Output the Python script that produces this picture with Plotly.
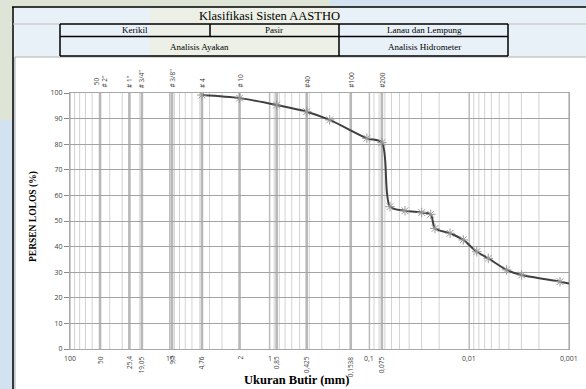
import math
import plotly.graph_objects as go

# ---------------- data ----------------
size_mm = [4.76, 2.0, 0.85, 0.425, 0.25, 0.106, 0.075,
           0.0622, 0.044, 0.0299, 0.0243, 0.022, 0.01556, 0.01146,
           0.0084, 0.00644, 0.00422, 0.00298, 0.00123, 0.0009]
percent_pass = [99.2, 98.0, 95.3, 92.7, 89.5, 82.3, 80.6,
                55.6, 54.0, 53.3, 52.6, 47.1, 45.2, 42.6,
                38.0, 35.4, 30.9, 28.9, 26.3, 25.2]

sieve_sizes = [50, 25.4, 19.05, 9.5, 4.76, 2, 0.85, 0.425, 0.1538, 0.075]
sieve_top_labels = ["50<br># 2\"", "# 1\"", "# 3/4\"", "# 3/8\"", "# 4", "# 10", "", "#40", "#100", "#200"]
sieve_bottom_labels = ["50", "25,4", "19,05", "9,5", "4,76", "2", "0,85", "0,425", "0,1538", "0,075"]
decade_values = [100, 10, 1, 0.1, 0.01, 0.001]
decade_labels = ["100", "10", "1", "0,1", "0,01", "0,001"]
y_ticks = list(range(0, 101, 10))

# ---------------- geometry helpers ----------------
W, H = 586, 389
L, R, T, B = 70, 17, 93, 40
PW, PH = W - L - R, H - T - B


def xp(px):
    return (px - L) / PW


def yp(py):
    return (H - B - py) / PH


fig = go.Figure()

fig.add_trace(go.Scatter(
    x=size_mm, y=percent_pass, mode="lines+markers",
    line=dict(color="#3f3f3f", width=2, shape="spline", smoothing=0.8),
    marker=dict(symbol="asterisk-open", size=8, color="#9a9a9a",
                line=dict(color="#9a9a9a", width=1)),
    cliponaxis=True, showlegend=False, hoverinfo="x+y"))

shapes = []
annotations = []

# background decoration
shapes.append(dict(type="rect", xref="paper", yref="paper", x0=xp(0), x1=xp(14), y0=yp(0), y1=yp(120),
                   fillcolor="rgba(240,232,175,0.4)", line=dict(width=0), layer="below"))
shapes.append(dict(type="rect", xref="paper", yref="paper", x0=xp(14), x1=xp(330), y0=yp(0), y1=yp(7),
                   fillcolor="rgba(240,232,175,0.4)", line=dict(width=0), layer="below"))
# table area
shapes.append(dict(type="rect", xref="paper", yref="paper", x0=xp(12), x1=xp(586), y0=yp(7), y1=yp(57),
                   fillcolor="rgba(255,255,255,0.5)", line=dict(width=0), layer="below"))
shapes.append(dict(type="rect", xref="paper", yref="paper", x0=xp(150), x1=xp(340), y0=yp(7), y1=yp(57),
                   fillcolor="rgba(245,238,190,0.3)", line=dict(width=0), layer="below"))
# white chart area
shapes.append(dict(type="rect", xref="paper", yref="paper", x0=xp(15), x1=xp(588), y0=yp(57), y1=yp(392),
                   fillcolor="white", line=dict(color="#b0b0b0", width=1), layer="below"))

# table lines
def hline(x0, x1, y, color="black", width=1.5):
    shapes.append(dict(type="line", xref="paper", yref="paper", x0=xp(x0), x1=xp(x1), y0=yp(y), y1=yp(y),
                       line=dict(color=color, width=width)))


def vline(x, y0, y1, color="black", width=1.5):
    shapes.append(dict(type="line", xref="paper", yref="paper", x0=xp(x), x1=xp(x), y0=yp(y0), y1=yp(y1),
                       line=dict(color=color, width=width)))

hline(12, 586, 7)
vline(13, 7, 389)
hline(13, 60, 24, color="#bdbdbd", width=1)
hline(508, 586, 24, color="#bdbdbd", width=1)
hline(60, 508, 24)
hline(60, 508, 36.5)
hline(60, 508, 56)
vline(60, 24, 56)
vline(508, 24, 56)
vline(210, 24, 36.5)
vline(339, 24, 56)

def text(px, py, s, size, bold=False, color="black", family="Liberation Serif"):
    annotations.append(dict(xref="paper", yref="paper", x=xp(px), y=yp(py), text=("<b>%s</b>" % s) if bold else s,
                            showarrow=False, xanchor="center", yanchor="middle",
                            font=dict(family=family, size=size, color=color)))

text(269, 15.5, "Klasifikasi Sisten AASTHO", 12.5)
text(135, 30, "Kerikil", 9)
text(274, 30, "Pasir", 9)
text(424, 30, "Lanau dan Lempung", 9)
text(199, 46.5, "Analisis Ayakan", 9)
text(424, 46.5, "Analisis Hidrometer", 9)
text(296, 380, "Ukuran Butir (mm)", 12.5, bold=True)
annotations.append(dict(xref="paper", yref="paper", x=xp(33), y=yp(217), text="<b>PERSEN LOLOS (%)</b>",
                        textangle=-90, showarrow=False, xanchor="center", yanchor="middle",
                        font=dict(family="Liberation Serif", size=9.5, color="black")))

# vertical grid lines (log minor, decades, sieves) -- shapes take raw data values on log axes
for k in range(-3, 2):
    for m in range(2, 10):
        v = m * 10 ** k
        shapes.append(dict(type="line", xref="x", yref="paper", x0=v, x1=v, y0=0, y1=1,
                           line=dict(color="#d2d2d2", width=1), layer="below"))
for v in decade_values:
    shapes.append(dict(type="line", xref="x", yref="paper", x0=v, x1=v, y0=0, y1=1,
                       line=dict(color="#bcbcbc", width=1.5), layer="below"))
for v in sieve_sizes:
    shapes.append(dict(type="line", xref="x", yref="paper", x0=v, x1=v, y0=0, y1=1,
                       line=dict(color="#b8b8b8", width=2.6), layer="below"))

tick_font = dict(family="Open Sans", size=6.5, color="#404040")
for v, lab in zip(sieve_sizes, sieve_top_labels):
    if lab:
        annotations.append(dict(xref="x", yref="paper", x=math.log10(v), y=yp(90), text=lab, textangle=-90,
                                showarrow=False, xanchor="center", yanchor="bottom", font=tick_font))
for v, lab in zip(sieve_sizes, sieve_bottom_labels):
    annotations.append(dict(xref="x", yref="paper", x=math.log10(v), y=yp(354), text=lab, textangle=-90,
                            showarrow=False, xanchor="center", yanchor="top", font=tick_font))
for v, lab in zip(decade_values, decade_labels):
    annotations.append(dict(xref="x", yref="paper", x=math.log10(v), y=yp(352), text=lab,
                            showarrow=False, xanchor="center", yanchor="top",
                            font=dict(family="Open Sans", size=7, color="#404040")))

fig.update_layout(
    width=W, height=H,
    margin=dict(l=L, r=R, t=T, b=B, pad=0),
    paper_bgcolor="#d3e2f1",
    plot_bgcolor="white",
    shapes=shapes,
    annotations=annotations,
    xaxis=dict(type="log", range=[2, -3], showgrid=False, showticklabels=False, zeroline=False,
               showline=True, mirror=True, linecolor="#a8a8a8", linewidth=1, ticks=""),
    yaxis=dict(range=[0, 100], tickvals=y_ticks, showgrid=True, gridcolor="#a3a3a3", gridwidth=1,
               zeroline=False, showline=True, mirror=True, linecolor="#a8a8a8", linewidth=1,
               ticks="outside", ticklen=5, tickcolor="#8a8a8a",
               tickfont=dict(family="Open Sans", size=7, color="#404040")),
)

fig.write_html("out.html", config={"displayModeBar": False},
               post_script="document.body.style.margin='0';document.body.style.background='#d3e2f1';")
